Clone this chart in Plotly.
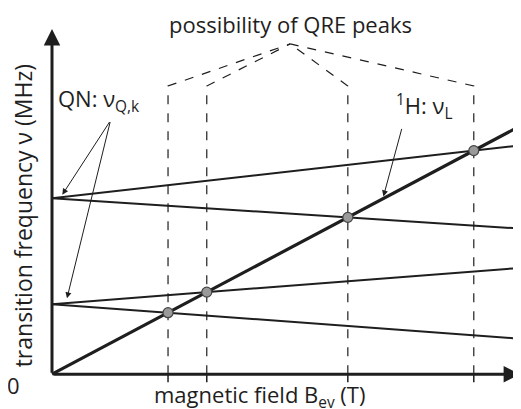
import plotly.graph_objects as go

# schematic data (arbitrary units)
b_max = 9.9
qn_freq = [5.10, 2.03]          # nu_Q,k at zero field
qn_slope_up = [0.153, 0.105]
qn_slope_down = [-0.088, -0.100]
h_slope = 0.719                 # 1H Larmor line
h_end = 9.96
dash_top = 8.35
apex = (5.09, 9.57)

INK = "#1e1e1e"
FONT = "Open Sans"

fig = go.Figure()

# QN lines
crossings = []
for f, su, sd in zip(qn_freq, qn_slope_up, qn_slope_down):
    for s in (su, sd):
        fig.add_trace(go.Scatter(x=[0, b_max], y=[f, f + s * b_max], mode="lines",
                                 line=dict(color=INK, width=2)))
        xc = f / (h_slope - s)
        crossings.append((xc, h_slope * xc))

# 1H line
fig.add_trace(go.Scatter(x=[0, h_end], y=[0, h_slope * h_end], mode="lines",
                         line=dict(color=INK, width=3.2)))

crossings.sort()
# dashed guides
for xc, _ in crossings:
    fig.add_trace(go.Scatter(x=[xc, xc, apex[0]], y=[0, dash_top, apex[1]], mode="lines",
                             line=dict(color=INK, width=1.2, dash="dash")))
    fig.add_trace(go.Scatter(x=[xc, xc], y=[-0.23, 0], mode="lines",
                             line=dict(color=INK, width=1.5)))

fig.add_trace(go.Scatter(x=[c[0] for c in crossings], y=[c[1] for c in crossings],
                         mode="markers",
                         marker=dict(size=10, color="#9a9a9a", line=dict(color="#444", width=1.2))))

# axes as arrows
fig.add_annotation(x=10.0, y=0, ax=0, ay=0, xref="x", yref="y", axref="x", ayref="y",
                   showarrow=True, arrowhead=2, arrowsize=1.1, arrowwidth=3, arrowcolor=INK, text="")
fig.add_annotation(x=0, y=10.0, ax=0, ay=0, xref="x", yref="y", axref="x", ayref="y",
                   showarrow=True, arrowhead=2, arrowsize=1.1, arrowwidth=3, arrowcolor=INK, text="")

# pointer arrows
for tx, ty in [(0.22, 5.2), (0.32, 2.2)]:
    fig.add_annotation(x=tx, y=ty, ax=1.25, ay=7.35, xref="x", yref="y", axref="x", ayref="y",
                       showarrow=True, arrowhead=2, arrowsize=1.2, arrowwidth=1, arrowcolor=INK, text="")
fig.add_annotation(x=7.08, y=5.15, ax=7.48, ay=7.15, xref="x", yref="y", axref="x", ayref="y",
                   showarrow=True, arrowhead=2, arrowsize=1.2, arrowwidth=1, arrowcolor=INK, text="")

txt = dict(xref="x", yref="y", showarrow=False, font=dict(family=FONT, size=22, color=INK))
fig.add_annotation(x=5.09, y=10.15, text="possibility of QRE peaks", **txt)
fig.add_annotation(x=1.0, y=7.95, text="QN: ν<sub>Q,k</sub>", **txt)
fig.add_annotation(x=7.95, y=7.75, text="<sup>1</sup>H: ν<sub>L</sub>", **txt)
fig.add_annotation(x=4.44, y=-0.62, text="magnetic field B<sub>ev</sub> (T)", **txt)
fig.add_annotation(x=-0.82, y=-0.3, text="0", **txt)
fig.add_annotation(x=-0.6, y=4.6, text="transition frequency ν (MHz)", textangle=-90,
                   xref="x", yref="y", showarrow=False, font=dict(family=FONT, size=23, color=INK))

fig.update_layout(
    width=521, height=409, margin=dict(l=0, r=0, t=0, b=0),
    paper_bgcolor="white", plot_bgcolor="white", showlegend=False,
    xaxis=dict(range=[-0.94, 10.19], visible=False, fixedrange=True),
    yaxis=dict(range=[-1.24, 10.61], visible=False, fixedrange=True),
)
fig.write_html("out.html")
